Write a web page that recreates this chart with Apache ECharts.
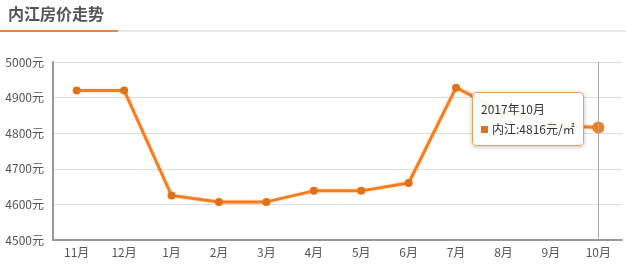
<!DOCTYPE html>
<html><head><meta charset="utf-8">
<script src="https://cdn.jsdelivr.net/npm/echarts@6/dist/echarts.min.js"></script>
<style>html,body{margin:0;padding:0;background:#fff}#c{width:626px;height:264px}</style>
</head><body><div id="c"></div>
<script>
var categories = ['11月','12月','1月','2月','3月','4月','5月','6月','7月','8月','9月','10月'];
var fullLabels = ['2016年11月','2016年12月','2017年1月','2017年2月','2017年3月','2017年4月','2017年5月','2017年6月','2017年7月','2017年8月','2017年9月','2017年10月'];
var prices = [4920, 4920, 4625, 4607, 4607, 4638, 4638, 4660, 4928, 4860, 4822, 4816];
var seriesName = '内江';
var titleText = '内江房价走势';
var ORANGE = '#e2701a';

var chart = echarts.init(document.getElementById('c'));
chart.setOption({
  animation: false,
  graphic: [
    {type:'line', shape:{x1:0,y1:31,x2:626,y2:31}, style:{stroke:'#e9e9e9', lineWidth:2}},
    {type:'line', shape:{x1:0,y1:31,x2:118,y2:31}, style:{stroke:'#e8843a', lineWidth:2}},
    {type:'text', left:8, top:6, style:{text:titleText, font:'bold 16px "Noto Sans CJK SC"', fill:'#555'}}
  ],
  grid: {left:53, right:4, top:62, bottom:24},
  tooltip: {
    trigger:'axis',
    alwaysShowContent:true,
    backgroundColor:'rgba(255,255,255,0.92)',
    borderColor:'#e8a060',
    borderWidth:1,
    padding:[6,8],
    extraCssText:'border-radius:4px;box-shadow:0 1px 4px rgba(0,0,0,0.25);',
    textStyle:{color:'#333', fontSize:12, fontFamily:'"Noto Sans CJK SC"'},
    axisPointer:{type:'line', lineStyle:{color:'#aaa', width:1, type:'solid'}},
    position:function(){return [472, 92];},
    formatter:function(p){
      var d = p[0];
      return '<div style="line-height:20px">' + fullLabels[d.dataIndex] + '<br/><span style="display:inline-block;width:7px;height:7px;background:'+ORANGE+';margin-right:4px;vertical-align:1px"></span>' + seriesName + ':' + d.value + '元/㎡</div>';
    }
  },
  xAxis: {
    type:'category', data:categories, boundaryGap:true,
    axisLine:{lineStyle:{color:'#999', width:2}},
    axisTick:{alignWithLabel:true, length:4, lineStyle:{color:'#999'}},
    axisLabel:{color:'#555', fontSize:12, margin:6, fontFamily:'"Noto Sans CJK SC"'}
  },
  yAxis: {
    type:'value', min:4500, max:5000, interval:100,
    axisLine:{show:true, lineStyle:{color:'#999', width:2}},
    axisTick:{show:false},
    axisLabel:{color:'#555', fontSize:12, margin:9, formatter:function(v){return v + '元';}, fontFamily:'"Noto Sans CJK SC"'},
    splitLine:{lineStyle:{color:'#ddd', width:1}}
  },
  series: [{
    name:seriesName, type:'line', data:prices,
    symbol:'circle', symbolSize:8,
    lineStyle:{color:ORANGE, width:3, shadowColor:'rgba(240,150,60,0.35)', shadowBlur:3},
    itemStyle:{color:ORANGE},
    emphasis:{scale:1.5, itemStyle:{borderWidth:0}}
  }]
});
chart.dispatchAction({type:'showTip', seriesIndex:0, dataIndex:11});
</script></body></html>
